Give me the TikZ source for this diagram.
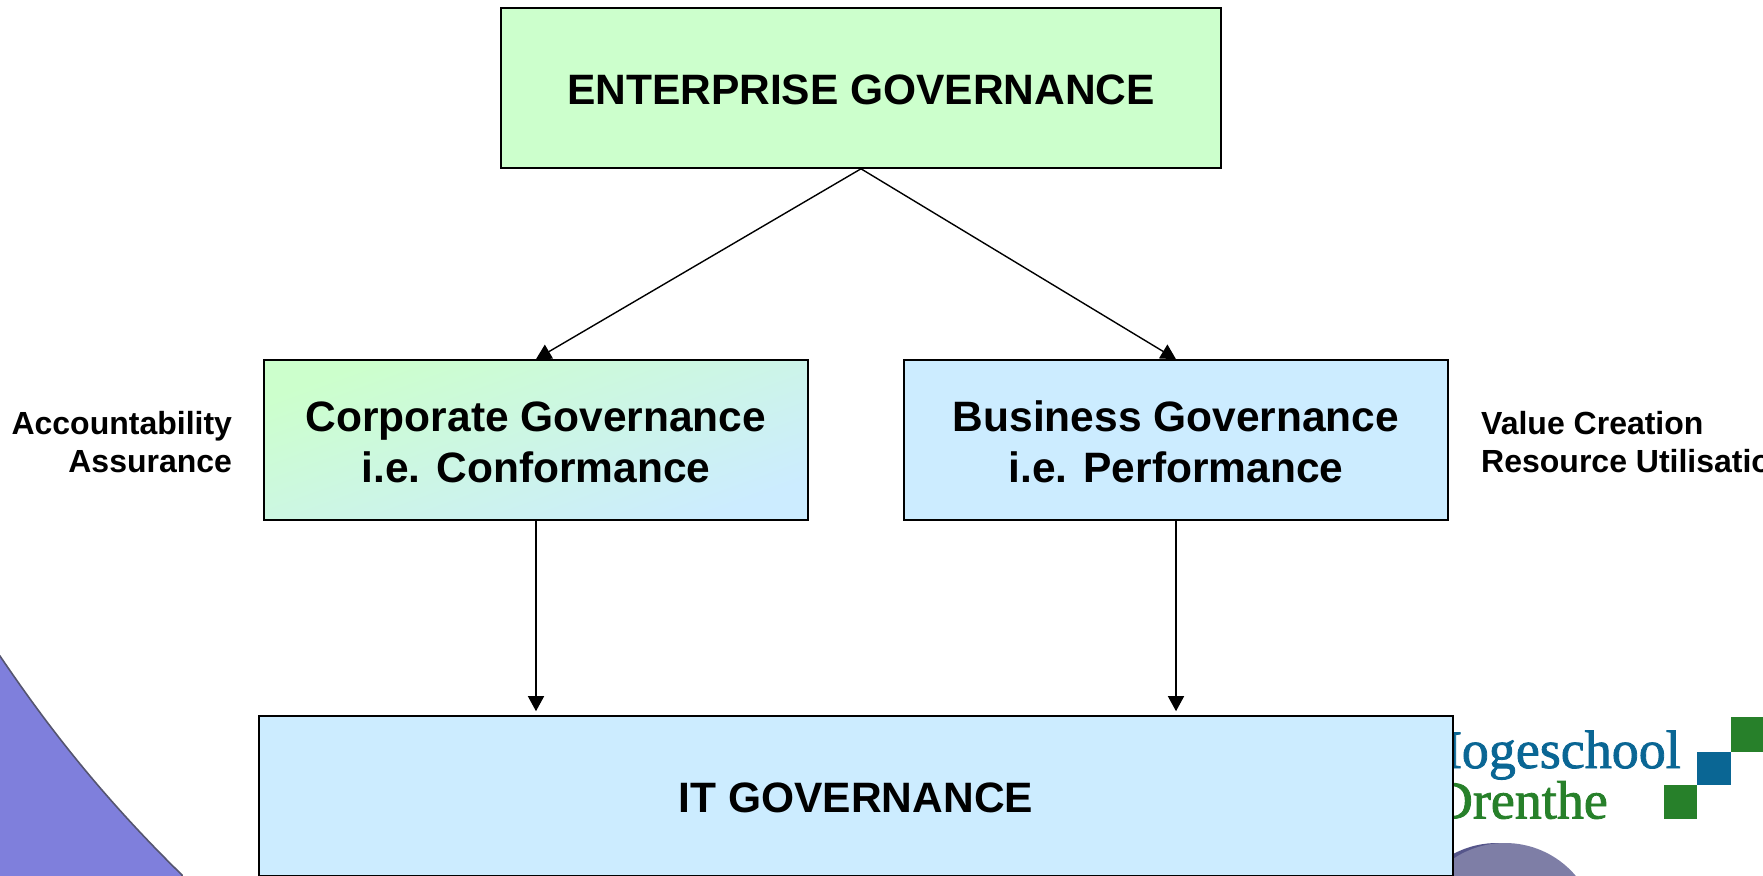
\documentclass[tikz,border=0pt]{standalone}
\usepackage{fontspec}
\setmainfont{Liberation Sans}
\newfontfamily\logofont[FakeBold=1.5]{Liberation Serif}
\usetikzlibrary{arrows.meta,backgrounds}
\definecolor{palegreen}{HTML}{CCFFCC}
\definecolor{paleblue}{HTML}{CCECFF}
\definecolor{logoblue}{HTML}{0A6694}
\definecolor{logogreen}{HTML}{27802A}
\definecolor{blobblue}{HTML}{7F7FDC}
\definecolor{blobedge}{HTML}{55556F}
\definecolor{discgray}{HTML}{7E7EA6}
\definecolor{discdark}{HTML}{55558A}
\newcommand\nudged[1]{\raisebox{-2pt}[\height][\depth]{#1}}
\tikzset{
  govbox/.style={draw=black,line width=1.6pt,inner sep=0pt,align=center,
    font=\bfseries\fontsize{42.5}{51}\selectfont},
  sidelabel/.style={inner sep=0pt,font=\bfseries\fontsize{32}{38}\selectfont},
  logotext/.style={inner sep=0pt,anchor=base east,font=\logofont\fontsize{54}{54}\selectfont},
  link/.style={draw=black,line width=1.4pt,-{Triangle[length=15pt,width=16pt]}},
}
\begin{document}
\begin{tikzpicture}[x=1pt,y=-1pt]
\useasboundingbox (0,0) rectangle (1763,875);
\clip (0,0) rectangle (1763,875);
% boxes
\node[govbox,fill=palegreen,minimum width=720pt,minimum height=160pt] (eg) at (861,88) {\nudged{ENTERPRISE GOVERNANCE}};
\node[govbox,top color=palegreen,bottom color=paleblue,shading angle=20,minimum width=544pt,minimum height=160pt] (cg) at (536,440) {\nudged{Corporate Governance}\\\nudged{i.e. Conformance}};
\node[govbox,fill=paleblue,minimum width=544pt,minimum height=160pt] (bg) at (1176,440) {\nudged{Business Governance}\\\nudged{i.e. Performance}};
\node[govbox,fill=paleblue,minimum width=1194pt,minimum height=160pt] (it) at (856,796) {\nudged{IT GOVERNANCE}};
% side labels
\node[sidelabel,anchor=east,align=right] (left) at (232.2,442) {Accountability\\Assurance};
\node[sidelabel,anchor=west,align=left] (right) at (1481,442) {Value Creation\\Resource Utilisation};
\begin{pgfonlayer}{background}
  % decorations
  \fill[discdark] (1497,935.6) circle (92.6);
  \fill[discgray] (1505,935.6) circle (92.6);
  \draw[blobedge,line width=1.6pt,fill=blobblue] (-2,654) -- (0,656) .. controls (40,715) and (95,790) .. (182,875) -- (182,880) -- (-2,880) -- cycle;
  \node[logotext,text=logoblue] (hog) at (1681,768) {Hogeschool};
  \node[logotext,text=logogreen] (dre) at (1608,818.5) {Drenthe};
  \fill[logogreen] (1731,717) rectangle (1763,752);
  \fill[logoblue] (1697,752) rectangle (1731,785);
  \fill[logogreen] (1664,785) rectangle (1697,819);
  % connectors
  \draw[link] (eg.south) -- (cg.north);
  \draw[link] (eg.south) -- (bg.north);
  \draw[link,shorten >=4pt] (cg.south) -- (cg.south |- it.north);
  \draw[link,shorten >=4pt] (bg.south) -- (bg.south |- it.north);
\end{pgfonlayer}
\end{tikzpicture}
\end{document}
